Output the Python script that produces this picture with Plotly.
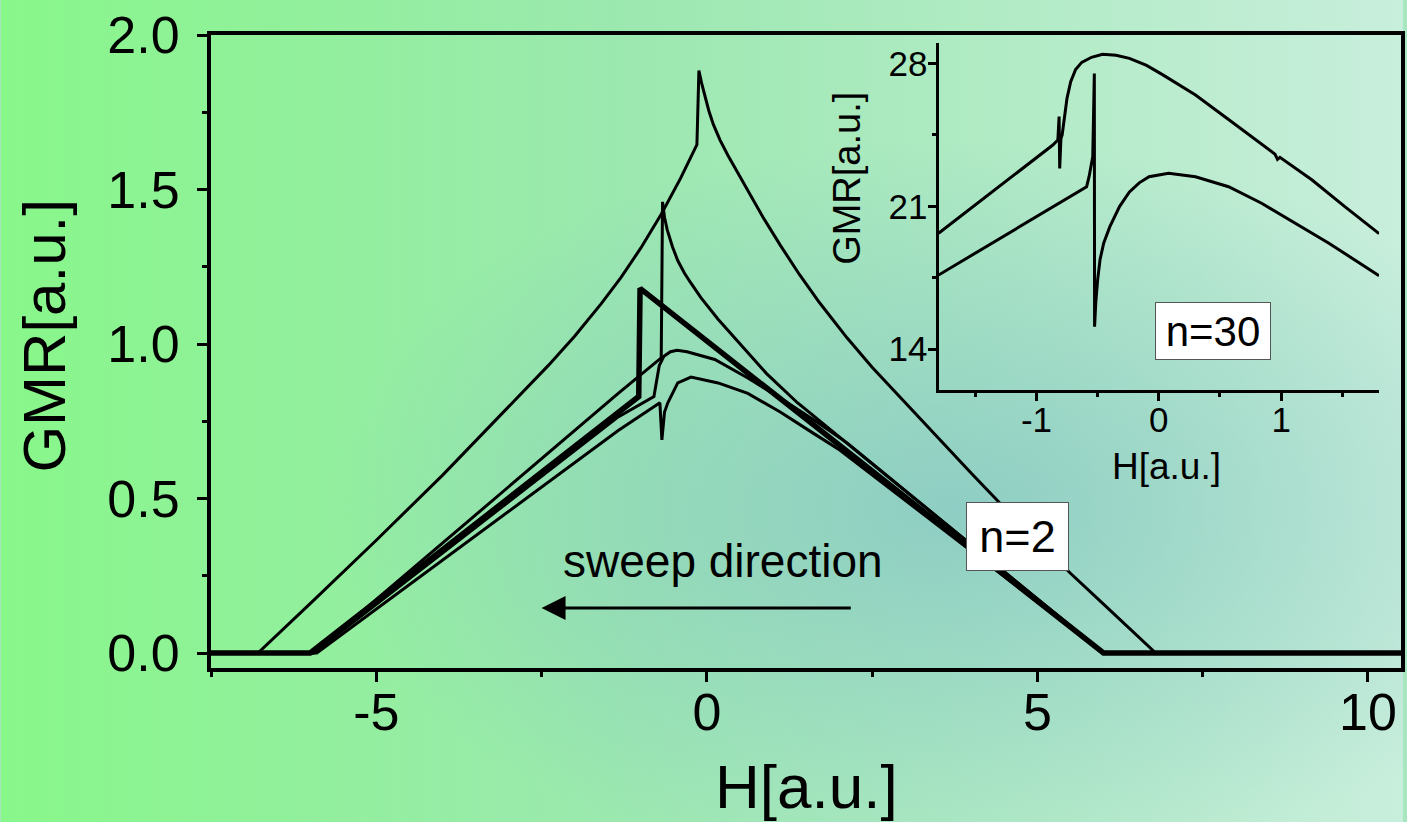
import base64
import plotly.graph_objects as go

# ---------------- data ----------------
# main panel, n=2 : five sweeps
A_x = [-7.5, -6.79, -6.0, -5.0, -4.0, -3.0, -2.4, -2.0, -1.6, -1.3, -1.0, -0.69, -0.4, -0.15,
       -0.12, -0.08, -0.03, 0.03, 0.10, 0.20, 0.32, 0.45, 0.62, 0.85, 1.11, 1.40, 1.70, 2.12,
       2.5, 3.0, 3.5, 4.0, 4.5, 5.0, 5.5, 6.0, 6.79, 10.5]
A_y = [0.0, 0.0, 0.16, 0.365, 0.575, 0.795, 0.93, 1.025, 1.13, 1.215, 1.31, 1.42, 1.535, 1.645,
       1.885, 1.845, 1.80, 1.755, 1.71, 1.66, 1.61, 1.56, 1.495, 1.41, 1.32, 1.225, 1.135, 1.02,
       0.925, 0.81, 0.695, 0.582, 0.47, 0.363, 0.258, 0.158, 0.0, 0.0]

B_x = [-7.5, -5.95, -1.34, -0.69, -0.67, -0.64, -0.6, -0.52, -0.44, -0.34, -0.25, -0.09, 0.17,
       0.42, 0.9, 1.37, 2.0, 4.0, 6.0, 10.5]
B_y = [0.0, 0.0, 0.84, 0.955, 1.46, 1.41, 1.37, 1.315, 1.27, 1.23, 1.2, 1.15, 1.08,
       1.02, 0.905, 0.81, 0.7, 0.35, 0.0, 0.0]

C_x = [-7.5, -6.0, -1.03, -1.01, 6.0, 10.5]
C_y = [0.0, 0.0, 0.83, 1.18, 0.0, 0.0]

D_x = [-7.5, -5.95, -1.34, -0.8, -0.76, -0.72, -0.65, -0.55, -0.45, -0.3, 0.12, 0.62, 1.11, 1.62,
       2.12, 4.0, 6.0, 10.5]
D_y = [0.0, 0.0, 0.764, 0.83, 0.88, 0.93, 0.96, 0.975, 0.98, 0.975, 0.95, 0.89, 0.825, 0.754,
       0.68, 0.35, 0.0, 0.0]

E_x = [-7.5, -5.9, -1.34, -0.71, -0.68, -0.66, -0.64, -0.59, -0.5, -0.44, -0.24, 0.17, 0.62, 1.11,
       1.62, 2.01, 4.0, 6.0, 10.5]
E_y = [0.0, 0.0, 0.72, 0.81, 0.69, 0.75, 0.78, 0.81, 0.85, 0.874, 0.893, 0.874, 0.84, 0.78,
       0.71, 0.657, 0.33, 0.0, 0.0]

# inset, n=30 : two sweeps
I1_x = [-1.8, -0.866, -0.825, -0.815, -0.81, -0.80, -0.79, -0.77, -0.75, -0.72, -0.68, -0.63,
        -0.55, -0.46, -0.35, -0.24, -0.10, 0.03, 0.30, 0.57, 0.84, 0.95, 0.97, 0.99, 1.25, 1.52, 1.8]
I1_y = [19.68, 24.0, 24.25, 25.4, 22.85, 24.3, 24.5, 25.3, 26.3, 27.1, 27.7, 28.05,
        28.3, 28.45, 28.4, 28.25, 27.9, 27.45, 26.45, 25.25, 24.02, 23.55, 23.3, 23.4, 22.3, 20.98, 19.66]

I2_x = [-1.8, -0.65, -0.59, -0.57, -0.54, -0.527, -0.525, -0.515, -0.50, -0.48, -0.45, -0.40, -0.32,
        -0.24, -0.16, -0.08, 0.08, 0.30, 0.57, 0.84, 1.12, 1.39, 1.8]
I2_y = [17.63, 21.71, 21.96, 22.45, 23.43, 27.5, 15.1, 16.3, 17.4, 18.4, 19.2, 20.0, 21.0,
        21.7, 22.15, 22.45, 22.62, 22.45, 21.96, 21.15, 20.17, 19.19, 17.6]

main_xticks = [-5, 0, 5, 10]
main_xtext = ["-5", "0", "5", "10"]
main_yticks = [0.0, 0.5, 1.0, 1.5, 2.0]
main_ytext = ["0.0", "0.5", "1.0", "1.5", "2.0"]
ins_xticks = [-1, 0, 1]
ins_xtext = ["-1", "0", "1"]
ins_yticks = [14, 21, 28]
ins_ytext = ["14", "21", "28"]

# ---------------- figure ----------------
W, H = 1407, 822
ML, MR, MT, MB = 211, 2, 35, 154
PW, PH = W - ML - MR, H - MT - MB
FONT = "Liberation Sans, Arial, Helvetica, sans-serif"


def px_x(px):
    return (px - ML) / PW


def px_y(py):
    return (H - MB - py) / PH


svg = f'''<svg xmlns="http://www.w3.org/2000/svg" width="{W}" height="{H}" viewBox="0 0 {W} {H}" preserveAspectRatio="none">
<defs>
<linearGradient id="g" x1="0" y1="0" x2="1" y2="0">
<stop offset="0" stop-color="#88F78A"/>
<stop offset="0.45" stop-color="#9CE8B0"/>
<stop offset="1" stop-color="#C8EEDC"/>
</linearGradient>
<radialGradient id="r" cx="0.68" cy="0.62" r="0.45">
<stop offset="0" stop-color="#84C4C4" stop-opacity="0.75"/>
<stop offset="1" stop-color="#84C4C4" stop-opacity="0"/>
</radialGradient>
</defs>
<rect width="{W}" height="{H}" fill="url(#g)"/>
<rect width="{W}" height="{H}" fill="url(#r)"/>
</svg>'''
bg_src = "data:image/svg+xml;base64," + base64.b64encode(svg.encode()).decode()

fig = go.Figure()
for xs, ys, w in [(A_x, A_y, 3), (B_x, B_y, 3), (D_x, D_y, 3), (E_x, E_y, 3), (C_x, C_y, 5.5)]:
    fig.add_trace(go.Scatter(x=xs, y=ys, mode="lines", line=dict(color="black", width=w),
                             showlegend=False, hoverinfo="skip", xaxis="x", yaxis="y"))
for xs, ys in [(I1_x, I1_y), (I2_x, I2_y)]:
    fig.add_trace(go.Scatter(x=xs, y=ys, mode="lines", line=dict(color="black", width=3),
                             showlegend=False, hoverinfo="skip", xaxis="x2", yaxis="y2"))

tick_font = dict(family=FONT, size=52, color="black")
ins_font = dict(family=FONT, size=35, color="black")

fig.update_layout(
    width=W, height=H,
    margin=dict(l=ML, r=MR, t=MT, b=MB),
    paper_bgcolor="#A8E6C0",
    plot_bgcolor="rgba(0,0,0,0)",
    showlegend=False,
    images=[dict(source=bg_src, xref="paper", yref="paper",
                 x=-ML / PW, y=1 + MT / PH, sizex=W / PW, sizey=H / PH,
                 xanchor="left", yanchor="top", sizing="stretch", layer="below")],
    xaxis=dict(range=[-7.5, 10.5], showgrid=False, zeroline=False,
               showline=True, linewidth=4, linecolor="black", mirror=True,
               ticks="outside", ticklen=10, tickwidth=3, tickcolor="black",
               tickvals=main_xticks, ticktext=main_xtext, tickfont=tick_font,
               ticklabelstandoff=-14,
               minor=dict(ticks="outside", ticklen=5, tickwidth=3, tickcolor="black",
                          tickvals=[-7.5, -2.5, 2.5, 7.5])),
    yaxis=dict(range=[-0.0485, 2.0], showgrid=False, zeroline=False,
               showline=True, linewidth=4, linecolor="black", mirror=True,
               ticks="outside", ticklen=10, tickwidth=3, tickcolor="black",
               tickvals=main_yticks, ticktext=main_ytext, tickfont=tick_font,
               ticklabelstandoff=7,
               minor=dict(ticks="outside", ticklen=5, tickwidth=3, tickcolor="black",
                          tickvals=[0.25, 0.75, 1.25, 1.75])),
    xaxis2=dict(domain=[px_x(941), px_x(1383)], anchor="y2", range=[-1.8, 1.8],
                showgrid=False, zeroline=False, showline=True, linewidth=3, linecolor="black",
                ticks="outside", ticklen=8, tickwidth=2.5, tickcolor="black",
                tickvals=ins_xticks, ticktext=ins_xtext, tickfont=ins_font,
                ticklabelstandoff=-11,
                minor=dict(ticks="outside", ticklen=4, tickwidth=2.5, tickcolor="black",
                           tickvals=[-1.5, -0.5, 0.5, 1.5])),
    yaxis2=dict(domain=[px_y(390), px_y(43)], anchor="x2", range=[12, 29],
                showgrid=False, zeroline=False, showline=True, linewidth=3, linecolor="black",
                ticks="outside", ticklen=8, tickwidth=2.5, tickcolor="black",
                tickvals=ins_yticks, ticktext=ins_ytext, tickfont=ins_font,
                ticklabelstandoff=-7,
                minor=dict(ticks="outside", ticklen=4, tickwidth=2.5, tickcolor="black",
                           tickvals=[17.5, 24.5])),
)

ann = [
    dict(text="H[a.u.]", x=px_x(809), y=px_y(786), xref="paper", yref="paper",
         showarrow=False, font=dict(family=FONT, size=62, color="black"),
         xanchor="center", yanchor="middle"),
    dict(text="GMR[a.u.]", x=px_x(44), y=px_y(336), xref="paper", yref="paper",
         showarrow=False, textangle=-90, font=dict(family=FONT, size=60, color="black"),
         xanchor="center", yanchor="middle"),
    dict(text="H[a.u.]", x=px_x(1170), y=px_y(466), xref="paper", yref="paper",
         showarrow=False, font=dict(family=FONT, size=37, color="black"),
         xanchor="center", yanchor="middle"),
    dict(text="GMR[a.u.]", x=px_x(849), y=px_y(178), xref="paper", yref="paper",
         showarrow=False, textangle=-90, font=dict(family=FONT, size=38, color="black"),
         xanchor="center", yanchor="middle"),
    dict(text="n=2", x=px_x(1020), y=px_y(536), xref="paper", yref="paper",
         showarrow=False, font=dict(family=FONT, size=45, color="black"),
         bgcolor="white", bordercolor="#555555", borderwidth=1, borderpad=1,
         width=99, height=65, xanchor="center", yanchor="middle"),
    dict(text="n=30", x=px_x(1216), y=px_y(331), xref="paper", yref="paper",
         showarrow=False, font=dict(family=FONT, size=42, color="black"),
         bgcolor="white", bordercolor="#555555", borderwidth=1, borderpad=1,
         width=112, height=54, xanchor="center", yanchor="middle"),
    dict(text="sweep direction", x=px_x(725), y=px_y(561), xref="paper", yref="paper",
         showarrow=False, font=dict(family=FONT, size=46, color="black"),
         xanchor="center", yanchor="middle"),
    dict(text="", x=-2.5, y=0.146, ax=2.2, ay=0.146, xref="x", yref="y", axref="x", ayref="y",
         showarrow=True, arrowhead=2, arrowsize=1.6, arrowwidth=3, arrowcolor="black"),
]
fig.update_layout(annotations=ann)

fig.write_html("out.html", config={"displayModeBar": False},
               post_script="document.body.style.margin='0px';document.body.style.overflow='hidden';")
